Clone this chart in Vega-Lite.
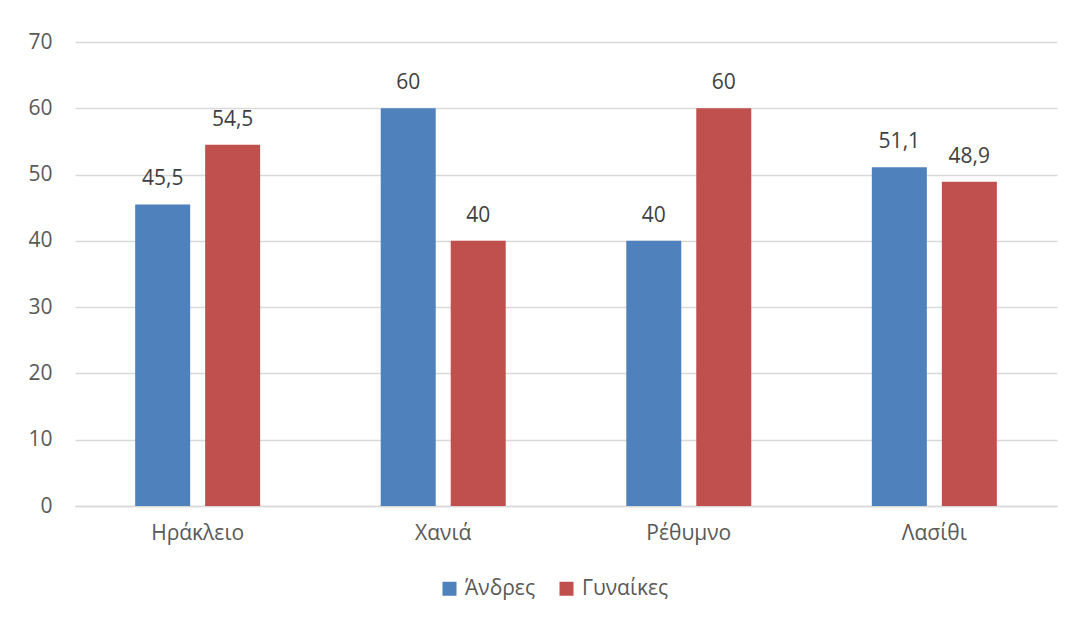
{
  "$schema": "https://vega.github.io/schema/vega-lite/v6.json",
  "autosize": "none",
  "width": 982,
  "height": 464,
  "padding": {"left": 75, "top": 42, "right": 15, "bottom": 115},
  "background": "white",
  "config": {
    "font": "Open Sans",
    "view": {"stroke": null},
    "locale": {"number": {"decimal": ",", "thousands": ".", "grouping": [3], "currency": ["", " €"]}}
  },
  "data": {
    "values": [
      {"region": "Ηράκλειο", "gender": "Άνδρες", "value": 45.5},
      {"region": "Ηράκλειο", "gender": "Γυναίκες", "value": 54.5},
      {"region": "Χανιά", "gender": "Άνδρες", "value": 60},
      {"region": "Χανιά", "gender": "Γυναίκες", "value": 40},
      {"region": "Ρέθυμνο", "gender": "Άνδρες", "value": 40},
      {"region": "Ρέθυμνο", "gender": "Γυναίκες", "value": 60},
      {"region": "Λασίθι", "gender": "Άνδρες", "value": 51.1},
      {"region": "Λασίθι", "gender": "Γυναίκες", "value": 48.9}
    ]
  },
  "encoding": {
    "x": {
      "field": "region", "type": "nominal", "sort": null,
      "scale": {"paddingInner": 0.491, "paddingOuter": 0.245},
      "axis": {"title": null, "labelAngle": 0, "labelFontSize": 21, "labelColor": "#595959", "labelPadding": 16, "ticks": false, "domainColor": "#D9D9D9", "domainWidth": 1.5, "grid": false}
    },
    "xOffset": {"field": "gender", "type": "nominal", "scale": {"paddingInner": 0.214, "paddingOuter": 0}},
    "y": {
      "field": "value", "type": "quantitative",
      "scale": {"domain": [0, 70], "nice": false},
      "axis": {"title": null, "values": [0,10,20,30,40,50,60,70], "format": "d", "labelFontSize": 21, "labelColor": "#595959", "labelPadding": 23, "ticks": false, "domain": false, "gridColor": "#D9D9D9", "gridWidth": 1.5}
    }
  },
  "layer": [
    {
      "mark": {"type": "bar"},
      "encoding": {
        "color": {
          "field": "gender", "type": "nominal",
          "scale": {"domain": ["Άνδρες", "Γυναίκες"], "range": ["#4F81BD", "#C0504D"]},
          "legend": {"title": null, "orient": "none", "legendX": 364, "legendY": 536, "direction": "horizontal", "symbolType": "square", "symbolSize": 196, "symbolStrokeWidth": 0, "labelFontSize": 21, "labelColor": "#595959", "columnPadding": 20, "labelOffset": 5}
        }
      }
    },
    {
      "mark": {"type": "text", "baseline": "alphabetic", "dy": -19, "fontSize": 21, "color": "#404040"},
      "encoding": {"text": {"field": "value", "type": "quantitative", "format": ",.1~f"}}
    }
  ]
}
